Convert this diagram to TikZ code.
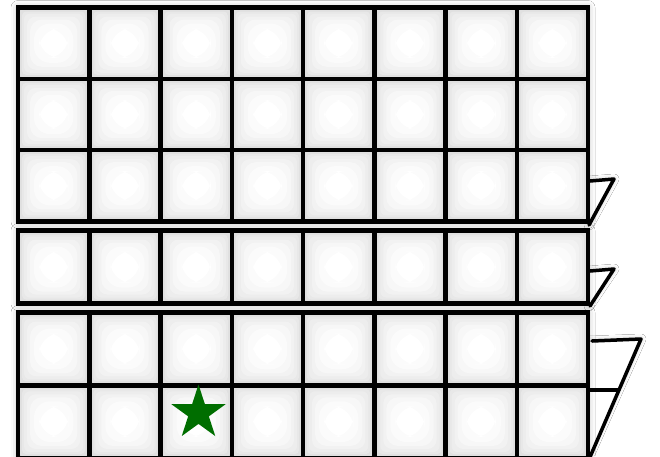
\documentclass[tikz,border=0pt]{standalone}
\usetikzlibrary{shapes.geometric,shadows.blur}
\definecolor{stargreen}{RGB}{0,110,0}
\newcommand\myblock[3]{% top y, rows, row height
  \path[fill=white, blur shadow={shadow xshift=0pt, shadow yshift=0pt, shadow blur radius=7pt, shadow opacity=30}]
    (18,#1) rectangle (588,{#1+#2*#3});
  \foreach \c in {0,...,7}{
    \foreach \r in {1,...,#2}{
      \pgfmathsetmacro\xa{18+71.25*\c}
      \pgfmathsetmacro\xb{\xa+71.25}
      \pgfmathsetmacro\ya{#1+#3*(\r-1)}
      \pgfmathsetmacro\yb{\ya+#3}
      \foreach \d/\g in {0/16,2/12,4/9,6/7,9/5,12/3,16/1.5,21/0}{
        \fill[black!\g, rounded corners=\d] (\xa+\d,\ya+\d) rectangle (\xb-\d,\yb-\d);
      }
    }
  }
  \foreach \c in {0,...,8}{
    \draw[gridline] ({18+71.25*\c},#1) -- ({18+71.25*\c},{#1+#2*#3});
  }
  \foreach \r in {0,...,#2}{
    \draw[gridline] (18,{#1+#3*\r}) -- (588,{#1+#3*\r});
  }
}
\begin{document}
\begin{tikzpicture}[x=1pt,y=-1pt,
  gridline/.style={line width=4.5pt, black, line cap=rect},
  flapline/.style={line width=3.5pt, black, line join=round, line cap=round}]
\useasboundingbox (0,0) rectangle (660,456);
\fill[white] (0,0) rectangle (660,456);
% flaps (behind grid)
\path[fill=white, blur shadow={shadow xshift=0pt, shadow yshift=0pt, shadow blur radius=5pt, shadow opacity=25}] (589,181) -- (614,179) -- (589,225) -- cycle;
\path[fill=white, blur shadow={shadow xshift=0pt, shadow yshift=0pt, shadow blur radius=5pt, shadow opacity=25}] (589,271) -- (614,269) -- (589,306) -- cycle;
\path[fill=white, blur shadow={shadow xshift=0pt, shadow yshift=0pt, shadow blur radius=5pt, shadow opacity=25}] (589,341) -- (641,339) -- (589,456) -- cycle;
\myblock{7.5}{3}{71.33}
\myblock{230.5}{1}{73}
\myblock{312.5}{2}{72.75}
\draw[flapline] (590,181) -- (614,179) -- (589,225);
\draw[flapline] (590,271) -- (614,269) -- (590,306);
\draw[flapline] (592,341) -- (641,339) -- (590,457);
\draw[flapline] (590,390) -- (618.5,390);
\node[star, star points=5, star point ratio=2.618, fill=stargreen, minimum size=57pt, inner sep=0pt] (star) at (198.5,413) {};
\end{tikzpicture}
\end{document}
